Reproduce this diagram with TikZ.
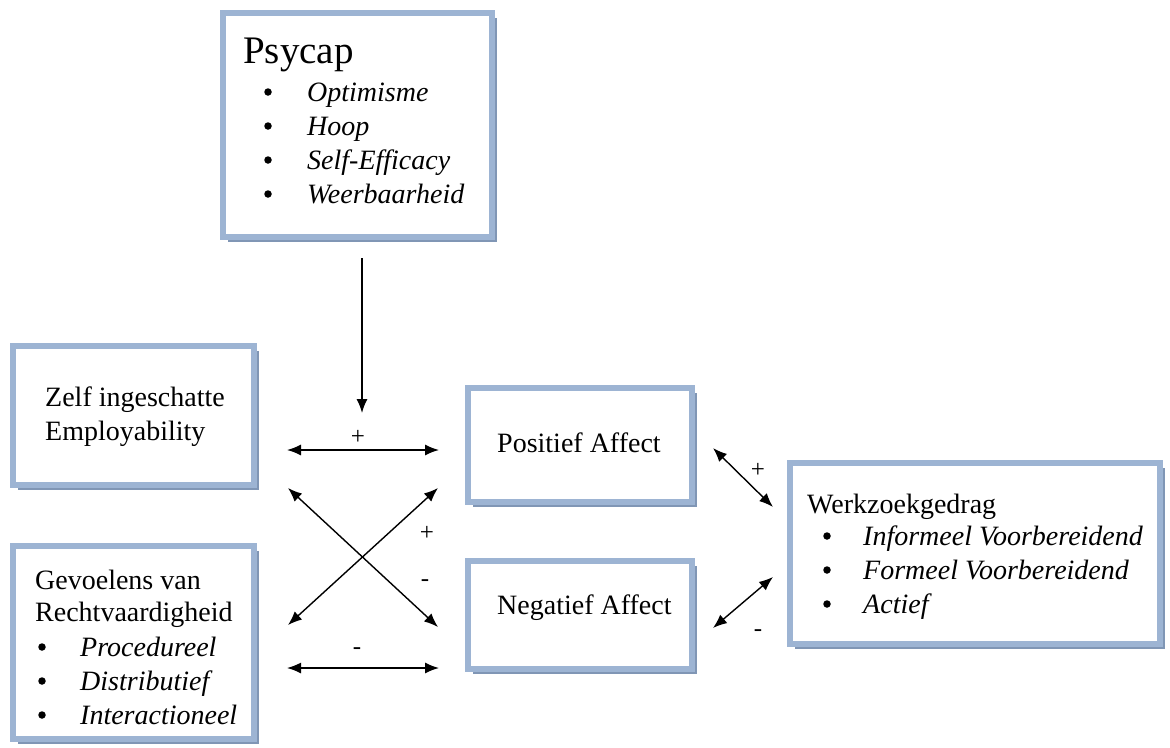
\documentclass[tikz,border=0pt]{standalone}
\usepackage{fontspec}
\setmainfont{Liberation Serif}
\usetikzlibrary{arrows.meta,shadows}
\definecolor{boxblue}{HTML}{9DB4D3}
\definecolor{shadowblue}{HTML}{8096B5}
\begin{document}
\begin{tikzpicture}[x=1pt,y=-1pt,
  box/.style={draw=boxblue, line width=5.5pt, fill=white, inner sep=0pt,
    drop shadow={shadow xshift=5pt, shadow yshift=-5pt, fill=shadowblue, opacity=1}},
  lbl/.style={anchor=base west, inner sep=0pt, font=\fontsize{28}{30}\selectfont},
  itm/.style={anchor=base west, inner sep=0pt, font=\fontsize{28}{30}\selectfont\itshape},
  bul/.style={circle, fill=black, inner sep=0pt, minimum size=7.5pt},
  arr/.style={{Latex[length=14pt,width=11pt]}-{Latex[length=14pt,width=11pt]}, line width=1.4pt},
  sarr/.style={-{Latex[length=14pt,width=11pt]}, line width=1.4pt},
  sign/.style={font=\fontsize{25}{27}\selectfont, inner sep=0pt}]
\useasboundingbox (0,0) rectangle (1170,747);
\fill[white] (0,0) rectangle (1170,747);

% boxes
\node[box, minimum width=269pt, minimum height=224pt] (psy) at (357.5,125) {};
\node[box, minimum width=241pt, minimum height=139pt] (zelf) at (133.5,415.5) {};
\node[box, minimum width=241pt, minimum height=193pt] (gev) at (133.5,642.5) {};
\node[box, minimum width=224pt, minimum height=114pt] (pos) at (580,445) {};
\node[box, minimum width=224pt, minimum height=108pt] (neg) at (580,615) {};
\node[box, minimum width=370pt, minimum height=181pt] (werk) at (975,553.5) {};

% Psycap text
\node[anchor=base west, inner sep=0pt, font=\fontsize{39}{42}\selectfont] (psyt) at (243,63) {Psycap};
\foreach \t/\y [count=\i] in {Optimisme/101, Hoop/135, Self-Efficacy/169, Weerbaarheid/203}{
  \node[bul] (psyb\i) at (268,\y-9) {};
  \node[itm] (psyi\i) at (307,\y) {\t};
}

% Zelf text
\node[lbl] (zelf1) at (45,406) {Zelf ingeschatte};
\node[lbl] (zelf2) at (45,440) {Employability};

% Gevoelens text
\node[lbl] (gev1) at (35,589) {Gevoelens van};
\node[lbl] (gev2) at (35,621) {Rechtvaardigheid};
\foreach \t/\y [count=\i] in {Procedureel/656, Distributief/690, Interactioneel/724}{
  \node[bul] (gevb\i) at (42,\y-9) {};
  \node[itm] (gevi\i) at (80,\y) {\t};
}

% Affect texts
\node[lbl] (post) at (497,452) {Positief Affect};
\node[lbl] (negt) at (497,614) {Negatief Affect};

% Werkzoekgedrag text
\node[lbl] (werkt) at (807,513) {Werkzoekgedrag};
\foreach \t/\y [count=\i] in {Informeel Voorbereidend/545, Formeel Voorbereidend/579, Actief/613}{
  \node[bul] (werkb\i) at (827,\y-9) {};
  \node[itm] (werki\i) at (863,\y) {\t};
}

% connector end points
\coordinate (pa) at (362,258);
\coordinate (pb) at (362,413);
\coordinate (h1a) at (287,450);
\coordinate (h1b) at (439,450);
\coordinate (h2a) at (287,668);
\coordinate (h2b) at (439,668);
\coordinate (c1a) at (288,488);
\coordinate (c1b) at (438,627);
\coordinate (c2a) at (288,625);
\coordinate (c2b) at (438,488);
\coordinate (r1a) at (713,448);
\coordinate (r1b) at (773,507);
\coordinate (r2a) at (713,628);
\coordinate (r2b) at (773,577);

\draw[sarr] (pa) -- (pb);
\draw[arr] (h1a) -- (h1b);
\draw[arr] (h2a) -- (h2b);
\draw[arr] (c1a) -- (c1b);
\draw[arr] (c2a) -- (c2b);
\draw[arr] (r1a) -- (r1b);
\draw[arr] (r2a) -- (r2b);

% signs
\node[sign] (s1) at (358,437) {+};
\node[sign] (s2) at (427,533) {+};
\node[sign] (s3) at (425,583) {-};
\node[sign] (s4) at (357,651) {-};
\node[sign] (s5) at (758,470) {+};
\node[sign] (s6) at (758,633) {-};
\end{tikzpicture}
\end{document}
